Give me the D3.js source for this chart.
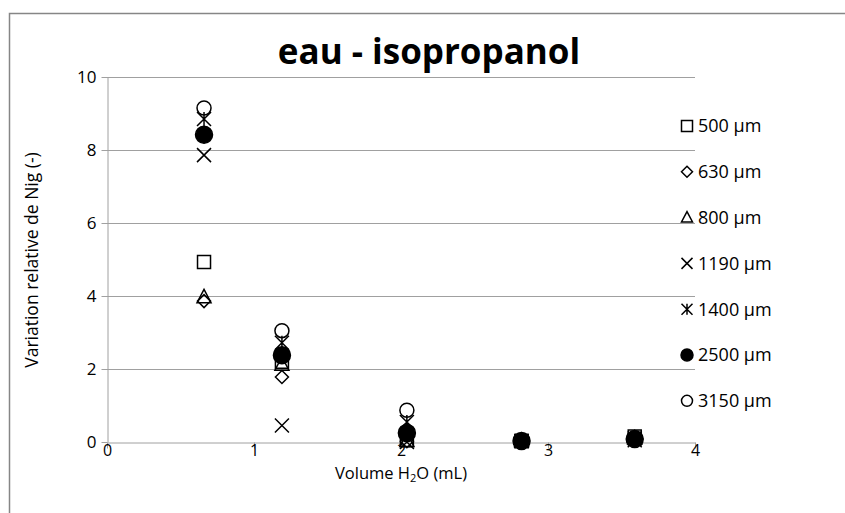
<!doctype html>
<html>
  <head>
    <meta charset="UTF-8">
    <title>eau - isopropanol</title>
    <script src="https://d3js.org/d3.v7.min.js"></script>
    <style>
      body { margin: 0; background: #fff; }
      text { font-family: "Open Sans", sans-serif; fill: #000; }
      .grid line { stroke: #a0a0a0; stroke-width: 1px; }
      .axis path, .axis line { stroke: #a0a0a0; }
    </style>
  </head>
  <body>
    <svg id="chart" width="845" height="513"></svg>
    <script>
      // x positions (mL of water) shared by all series
      const volumes = [0.66, 1.19, 2.04, 2.82, 3.59];

      // one array per grain size
      const s500  = [4.93, 2.20, 0.05, 0.03, 0.15];
      const s630  = [3.86, 1.78, 0.02, 0.02, 0.08];
      const s800  = [3.97, 2.12, 0.03, 0.03, 0.10];
      const s1190 = [7.86, 0.45, 0.00, 0.02, 0.05];
      const s1400 = [8.85, 2.72, 0.55, 0.03, 0.10];
      const s2500 = [8.42, 2.38, 0.25, 0.03, 0.08];
      const s3150 = [9.15, 3.05, 0.87, 0.04, 0.10];

      const seriesNames = ["500 µm", "630 µm", "800 µm", "1190 µm", "1400 µm", "2500 µm", "3150 µm"];
      const seriesMarkers = ["square", "diamond", "triangle", "x", "star", "dot", "circle"];
      const seriesValues = [s500, s630, s800, s1190, s1400, s2500, s3150];

      const yTicks = [0, 2, 4, 6, 8, 10];
      const xTicks = [0, 1, 2, 3, 4];

      const svg = d3.select("#chart");

      // outer chart border (only top and left visible in the crop)
      svg.append("path")
        .attr("d", "M9.5,513 V13.5 H845")
        .attr("fill", "none")
        .attr("stroke", "#868686")
        .attr("stroke-width", 1.5);

      const x = d3.scaleLinear().domain([0, 4]).range([107, 695]);
      const y = d3.scaleLinear().domain([0, 10]).range([442, 77]);

      // horizontal gridlines
      svg.append("g").attr("class", "grid")
        .selectAll("line")
        .data(yTicks.filter(d => d > 0))
        .join("line")
          .attr("x1", x(0)).attr("x2", x(4))
          .attr("y1", d => Math.round(y(d)) + 0.5)
          .attr("y2", d => Math.round(y(d)) + 0.5);

      const yAxis = svg.append("g").attr("class", "axis")
        .attr("transform", `translate(${x(0) + 0.5},0)`)
        .call(d3.axisLeft(y).tickValues(yTicks).tickSize(6).tickSizeOuter(0).tickPadding(5));
      yAxis.selectAll("text").style("font-size", "17px");

      const xAxis = svg.append("g").attr("class", "axis")
        .attr("transform", `translate(0,${y(0) + 0.5})`)
        .call(d3.axisBottom(x).tickValues(xTicks).tickFormat(d3.format("d")).tickSize(6).tickSizeOuter(0));
      xAxis.selectAll("text").style("font-size", "16px").attr("y", 2);

      // marker shapes, drawn around (0,0)
      function markerPath(type, r) {
        switch (type) {
          case "square":
            return `M${-r},${-r}H${r}V${r}H${-r}Z`;
          case "diamond":
            return `M0,${-r}L${r},0L0,${r}L${-r},0Z`;
          case "triangle":
            return `M0,${-r * 1.1}L${r},${r * 0.8}H${-r}Z`;
          case "x":
            return `M${-r},${-r}L${r},${r}M${r},${-r}L${-r},${r}`;
          case "star":
            return `M${-r},${-r}L${r},${r}M${r},${-r}L${-r},${r}M0,${-r}V${r}`;
          default:
            return d3.arc()({innerRadius: 0, outerRadius: r, startAngle: 0, endAngle: 2 * Math.PI});
        }
      }

      function drawMarker(g, type, r) {
        g.append("path")
          .attr("d", markerPath(type, r))
          .attr("fill", type === "dot" ? "#000" : "none")
          .attr("stroke", "#000")
          .attr("stroke-width", 1.5);
      }

      const markerSize = {square: 6.5, diamond: 6.5, triangle: 7, x: 7, star: 7, dot: 8.5, circle: 7};

      seriesValues.forEach((vals, i) => {
        const type = seriesMarkers[i];
        svg.append("g")
          .selectAll("g")
          .data(vals.map((v, j) => ({x: volumes[j], y: v})))
          .join("g")
            .attr("transform", d => `translate(${x(d.x)},${y(d.y)})`)
            .each(function() { drawMarker(d3.select(this), type, markerSize[type]); });
      });

      // legend
      const legend = svg.append("g");
      seriesNames.forEach((name, i) => {
        const type = seriesMarkers[i];
        const ly = 126 + i * 45.8;
        const lg = legend.append("g").attr("transform", `translate(687,${ly})`);
        drawMarker(lg, type, type === "dot" ? 6 : 5.5);
        legend.append("text")
          .attr("x", 698).attr("y", ly)
          .attr("dy", "0.36em")
          .style("font-size", "18px")
          .text(name);
      });

      // title
      svg.append("text")
        .attr("x", 429).attr("y", 64)
        .attr("text-anchor", "middle")
        .style("font-size", "35px")
        .style("font-weight", "bold")
        .text("eau - isopropanol");

      // axis titles
      svg.append("text")
        .attr("transform", "translate(38,260) rotate(-90)")
        .attr("text-anchor", "middle")
        .style("font-size", "17.5px")
        .text("Variation relative de Nig (-)");

      const xt = svg.append("text")
        .attr("x", 401).attr("y", 479)
        .attr("text-anchor", "middle")
        .style("font-size", "16.5px");
      xt.append("tspan").text("Volume H");
      xt.append("tspan").attr("font-size", "11px").attr("dy", 3).text("2");
      xt.append("tspan").attr("dy", -3).text("O (mL)");
    </script>
  </body>
</html>
